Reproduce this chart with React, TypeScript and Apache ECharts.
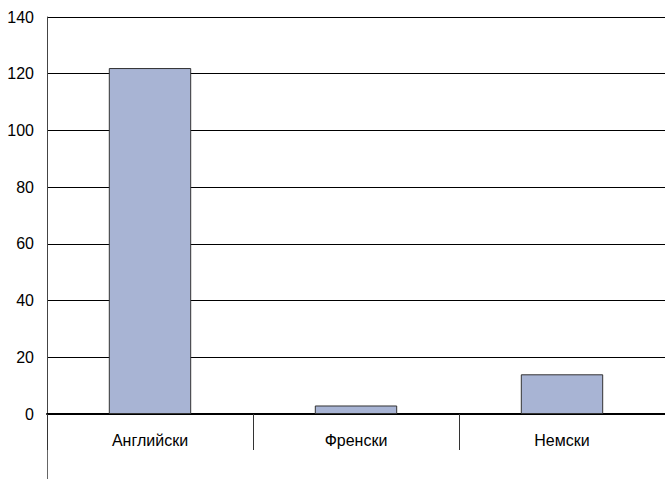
import React, { useEffect, useRef } from "react";
import * as echarts from "echarts";

const categories = ["Английски", "Френски", "Немски"];
const values = [122, 3, 14];
const yMin = 0;
const yMax = 140;
const yInterval = 20;

export default function App() {
  const ref = useRef<HTMLDivElement>(null);
  useEffect(() => {
    if (!ref.current) return;
    const chart = echarts.init(ref.current, null, { renderer: "svg" });
    chart.setOption({
      animation: false,
      backgroundColor: "#ffffff",
      textStyle: { fontFamily: "Liberation Sans, Arial, sans-serif" },
      grid: { left: 47, right: 0, top: 17, bottom: 65, containLabel: false },
      xAxis: {
        type: "category",
        data: categories,
        boundaryGap: true,
        axisLine: { show: true, lineStyle: { color: "#000", width: 2 } },
        axisTick: { show: true, length: 36, alignWithLabel: false, lineStyle: { color: "#333", width: 1 } },
        axisLabel: { color: "#000", fontSize: 16, margin: 18 },
        splitLine: { show: false },
      },
      yAxis: {
        type: "value",
        min: yMin,
        max: yMax,
        interval: yInterval,
        axisLine: { show: true, lineStyle: { color: "#444", width: 1 } },
        axisTick: { show: false },
        axisLabel: { color: "#000", fontSize: 16, margin: 13 },
        splitLine: { show: true, lineStyle: { color: "#000", width: 1 } },
      },
      series: [
        {
          type: "bar",
          data: values,
          barWidth: "40%",
          itemStyle: { color: "#A8B4D4", borderColor: "#333", borderWidth: 1 },
          z: 1,
        },
      ],
      graphic: [
        {
          type: "line",
          shape: { x1: 47.5, y1: 414, x2: 47.5, y2: 479 },
          style: { stroke: "#666", lineWidth: 1 },
        },
      ],
    });
    return () => chart.dispose();
  }, []);
  return (
    <div
      ref={ref}
      style={{ position: "fixed", left: 0, top: 0, width: 665, height: 479 }}
    />
  );
}
